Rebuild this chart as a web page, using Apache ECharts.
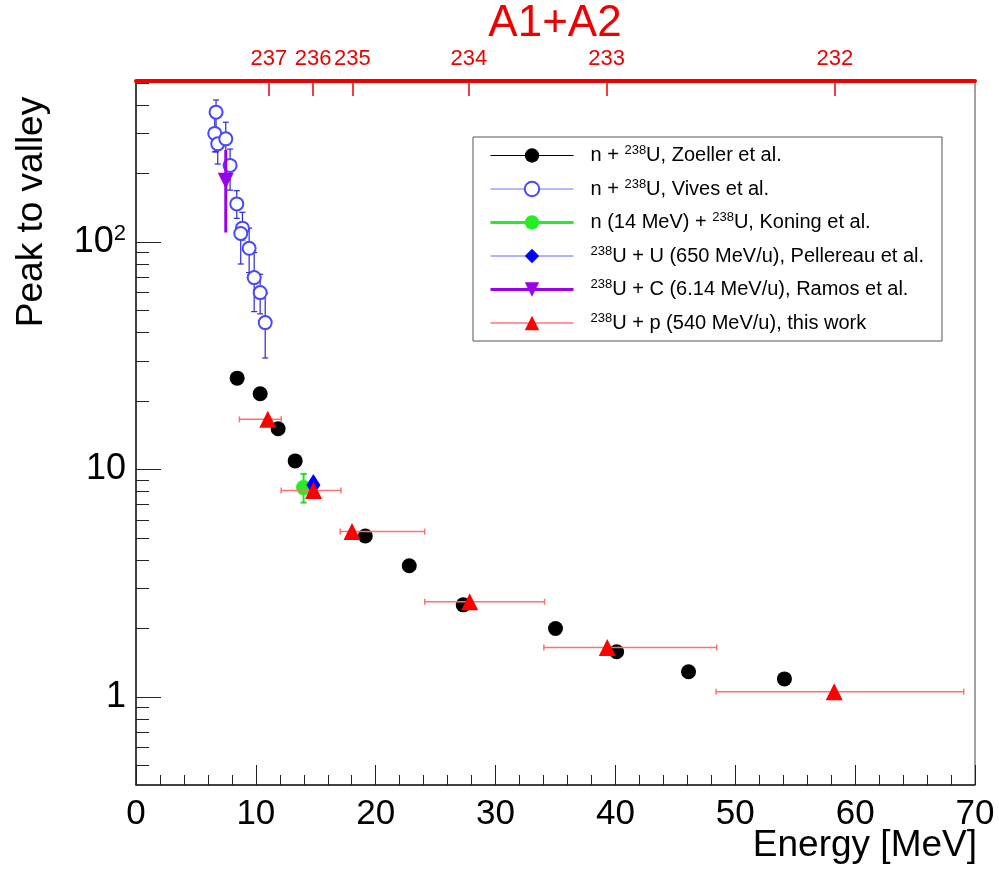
<!DOCTYPE html>
<html><head><meta charset="utf-8">
<script src="https://cdn.jsdelivr.net/npm/echarts@6/dist/echarts.min.js"></script>
<style>html,body{margin:0;padding:0;background:#fff}#c{width:999px;height:872px}</style>
</head><body><div id="c"></div>
<script>
// ---- data ----
const zoellerE = [8.44, 10.36, 11.86, 13.28, 19.13, 22.8, 27.3, 35.0, 40.1, 46.1, 54.1];
const zoellerV = [25.2, 21.5, 15.1, 10.9, 5.10, 3.77, 2.54, 2.0, 1.58, 1.29, 1.20];

const vivesE  = [6.68, 6.57, 6.82, 7.49, 7.85, 8.41, 8.88, 8.74, 9.44, 9.86, 10.36, 10.78];
const vivesV  = [372, 300, 270, 284, 217, 147, 115, 109, 93.8, 69.7, 59.9, 44.2];
const vivesLo = [249, 249, 220, 220, 169, 127, 102, 80, 73.3, 49.4, 48.3, 30.9];
const vivesHi = [421, 352, 300, 336, 256, 168, 135, 120, 115, 89.8, 72.1, 59.5];

const koningE = [13.98];
const koningV = [8.32];
const koningLo = [7.15];
const koningHi = [9.56];

const pellereauE = [14.8];
const pellereauV = [8.55];

const ramosE = [7.49];
const ramosV = [186];
const ramosLo = [110];
const ramosHi = [254];

const workE   = [11.0, 14.81, 18.02, 27.84, 39.32, 58.25];
const workV   = [16.6, 8.07, 5.33, 2.62, 1.65, 1.055];
const workELo = [8.63, 12.11, 17.04, 24.09, 34.03, 48.4];
const workEHi = [12.11, 17.1, 24.09, 34.09, 48.45, 69.06];

const massTickE = [11.09, 14.78, 18.06, 27.77, 39.26, 58.3];
const massTickLabels = ['237', '236', '235', '234', '233', '232'];

const yMajorTicks = [1, 10, 100];
const yMinorTicks = [0.5, 0.6, 0.7, 0.8, 0.9, 2, 3, 4, 5, 6, 7, 8, 9, 20, 30, 40, 50, 60, 70, 80, 90, 200, 300, 400, 500];

const names = [
  'n + 238U, Zoeller et al.',
  'n + 238U, Vives et al.',
  'n (14 MeV) + 238U, Koning et al.',
  '238U + U (650 MeV/u), Pellereau et al.',
  '238U + C (6.14 MeV/u), Ramos et al.',
  '238U + p (540 MeV/u), this work'
];

// ---- helpers ----
const FONT = '"Liberation Sans", Arial, Helvetica, sans-serif';
const zip = (a, b) => a.map((v, i) => [v, b[i]]);
const zip3 = (a, b, c) => a.map((v, i) => [v, b[i], c[i]]);

function vErr(name, E, lo, hi, color, width, cap, z) {
  return {
    type: 'custom', name: name, z: z, silent: true,
    data: zip3(E, lo, hi),
    encode: { x: 0, y: [1, 2] },
    renderItem: function (params, api) {
      const x = api.value(0);
      const p1 = api.coord([x, api.value(1)]);
      const p2 = api.coord([x, api.value(2)]);
      const st = { stroke: color, lineWidth: width };
      const ch = [{ type: 'line', shape: { x1: p1[0], y1: p1[1], x2: p2[0], y2: p2[1] }, style: st }];
      if (cap > 0) {
        ch.push({ type: 'line', shape: { x1: p1[0] - cap, y1: p1[1], x2: p1[0] + cap, y2: p1[1] }, style: st });
        ch.push({ type: 'line', shape: { x1: p2[0] - cap, y1: p2[1], x2: p2[0] + cap, y2: p2[1] }, style: st });
      }
      return { type: 'group', children: ch };
    }
  };
}
function hErr(name, lo, hi, V, color, width, cap, z) {
  return {
    type: 'custom', name: name, z: z, silent: true,
    data: zip3(lo, hi, V),
    encode: { x: [0, 1], y: 2 },
    renderItem: function (params, api) {
      const y = api.value(2);
      const p1 = api.coord([api.value(0), y]);
      const p2 = api.coord([api.value(1), y]);
      const st = { stroke: color, lineWidth: width };
      const ch = [{ type: 'line', shape: { x1: p1[0], y1: p1[1], x2: p2[0], y2: p2[1] }, style: st }];
      if (cap > 0) {
        ch.push({ type: 'line', shape: { x1: p1[0], y1: p1[1] - cap, x2: p1[0], y2: p1[1] + cap }, style: st });
        ch.push({ type: 'line', shape: { x1: p2[0], y1: p2[1] - cap, x2: p2[0], y2: p2[1] + cap }, style: st });
      }
      return { type: 'group', children: ch };
    }
  };
}
function pts(name, E, V, symbol, size, color, z, extra) {
  return Object.assign({
    type: 'line', name: name, data: zip(E, V), z: z,
    symbol: symbol, symbolSize: size, showSymbol: true,
    lineStyle: { opacity: 0, width: 0 },
    itemStyle: { color: color, opacity: 1 },
    emphasis: { disabled: true }
  }, extra || {});
}

const chart = echarts.init(document.getElementById('c'));
chart.setOption({
  animation: false,
  textStyle: { fontFamily: FONT },
  grid: { left: 136, right: 24, top: 81, bottom: 87, show: true, borderColor: '#444', borderWidth: 1, containLabel: false, outerBoundsMode: 'none' },
  xAxis: [{
    type: 'value', position: 'bottom', min: 0, max: 70, interval: 10,
    axisLine: { show: true, onZero: false, lineStyle: { color: '#222', width: 1.5 } },
    axisTick: { show: true, inside: true, length: 20, lineStyle: { color: '#222', width: 1 } },
    minorTick: { show: true, splitNumber: 5, length: 10, lineStyle: { color: '#222', width: 1 } },
    axisLabel: { fontSize: 35, color: '#000', margin: 12, fontFamily: FONT },
    splitLine: { show: false }
  }, {
    type: 'value', position: 'top', min: 0, max: 70,
    axisLine: { show: true, onZero: false, lineStyle: { color: '#ee0000', width: 4 } },
    axisTick: { show: true, inside: true, length: 15, customValues: massTickE, lineStyle: { color: '#ee0000', width: 1.5 } },
    axisLabel: {
      show: true, customValues: massTickE, fontSize: 22, color: '#ee0000', margin: 11, fontFamily: FONT,
      hideOverlap: false,
      formatter: function (v) {
        let best = 0;
        massTickE.forEach((e, i) => { if (Math.abs(e - v) < Math.abs(massTickE[best] - v)) best = i; });
        return massTickLabels[best];
      }
    },
    splitLine: { show: false }
  }],
  yAxis: [{
    type: 'log', logBase: 10, min: 0.41, max: 510, position: 'left',
    axisLine: { show: true, onZero: false, lineStyle: { color: '#222', width: 1.5 } },
    axisTick: { show: true, inside: true, length: 25, customValues: yMajorTicks, lineStyle: { color: '#222', width: 1 } },
    axisLabel: {
      show: true, customValues: yMajorTicks, fontSize: 36, color: '#000', margin: 10, fontFamily: FONT,
      formatter: function (v) {
        if (Math.abs(v - 100) < 1e-6) return '10{sup|2}';
        if (Math.abs(v - 10) < 1e-6) return '10';
        if (Math.abs(v - 1) < 1e-6) return '1';
        return '';
      },
      rich: { sup: { fontSize: 22, padding: [0, 0, 16, 0], fontFamily: FONT, color: '#000' } }
    },
    splitLine: { show: false }
  }, {
    type: 'log', logBase: 10, min: 0.41, max: 510, position: 'left', offset: 0,
    axisLine: { show: false },
    axisTick: { show: true, inside: true, length: 13, customValues: yMinorTicks, lineStyle: { color: '#222', width: 1 } },
    axisLabel: { show: false },
    splitLine: { show: false }
  }],
  legend: {
    orient: 'vertical', left: 473, top: 137,
    padding: [7, 18, 8, 16],
    itemWidth: 83, itemHeight: 18, itemGap: 12,
    borderColor: '#555', borderWidth: 1, backgroundColor: '#fff',
    selectedMode: false,
    textStyle: {
      fontSize: 20, color: '#000', fontFamily: FONT, padding: [0, 0, 0, 12],
      rich: { s: { fontSize: 13, padding: [0, 0, 10, 0], fontFamily: FONT, color: '#000' } }
    },
    formatter: function (n) { return n.replace('238', '{s|238}'); },
    data: [
      { name: names[0], lineStyle: { opacity: 1, width: 1, color: '#000' } },
      { name: names[1], lineStyle: { opacity: 1, width: 1, color: '#7070ff' } },
      { name: names[2], lineStyle: { opacity: 1, width: 3, color: '#22ee22' } },
      { name: names[3], lineStyle: { opacity: 1, width: 1, color: '#6060ff' } },
      { name: names[4], lineStyle: { opacity: 1, width: 3, color: '#9900ee' } },
      { name: names[5], lineStyle: { opacity: 1, width: 1, color: '#ff3333' } }
    ]
  },
  graphic: [{
    type: 'text', x: 555, y: 24,
    style: { text: 'A1+A2', fontSize: 44, fontFamily: FONT, fill: '#ee0000', align: 'center', verticalAlign: 'middle' }
  }, {
    type: 'text', x: 32, y: 212, rotation: Math.PI / 2,
    style: { text: 'Peak to valley', fontSize: 37, fontFamily: FONT, fill: '#000', align: 'center', verticalAlign: 'middle' }
  }, {
    type: 'text', x: 977, y: 846,
    style: { text: 'Energy [MeV]', fontSize: 37, fontFamily: FONT, fill: '#000', align: 'right', verticalAlign: 'middle' }
  }],
  series: [
    vErr('vivesErr', vivesE, vivesLo, vivesHi, '#2a2ad0', 1.2, 3, 2),
    pts(names[1], vivesE, vivesV, 'emptyCircle', 13, '#4848ff', 3, { itemStyle: { color: '#4848ff', borderWidth: 1.2 } }),
    vErr('ramosErr', ramosE, ramosLo, ramosHi, '#9900ee', 3, 0, 4),
    pts(names[4], ramosE, ramosV, 'triangle', 16, '#9900ee', 5, { symbolRotate: 180 }),
    pts(names[0], zoellerE, zoellerV, 'circle', 15, '#000000', 6),
    vErr('koningErr', koningE, koningLo, koningHi, '#22dd22', 2, 3, 7),
    pts(names[2], koningE, koningV, 'circle', 15, '#22ee22', 8),
    pts(names[3], pellereauE, pellereauV, 'diamond', [14, 22], '#0000ff', 9),
    hErr('workErr', workELo, workEHi, workV, '#ff7070', 1.5, 3, 10),
    pts(names[5], workE, workV, 'triangle', 17, '#ff0000', 11)
  ]
});
</script>
</body></html>
